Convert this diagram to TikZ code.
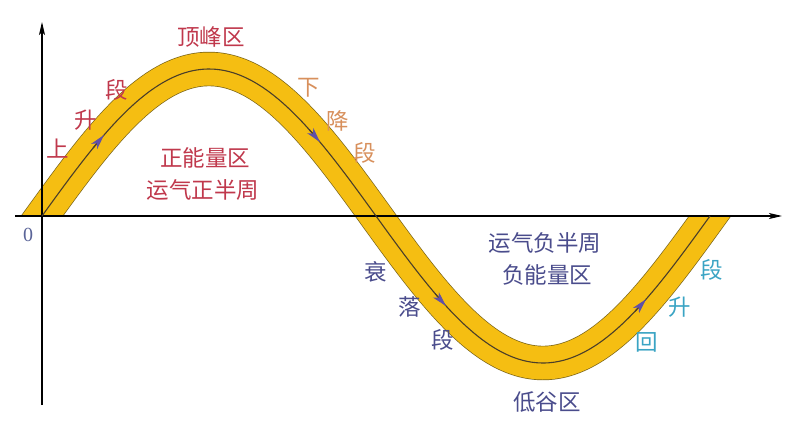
\documentclass[tikz,border=0pt]{standalone}
\usepackage{fontspec}
\newfontfamily\cjk{Noto Sans CJK SC}
\newfontfamily\numfont{Liberation Serif}
\usetikzlibrary{arrows.meta}
\definecolor{bandyellow}{HTML}{F5BE12}
\definecolor{bandedge}{HTML}{7A6418}
\definecolor{midline}{HTML}{4A3E2A}
\definecolor{arrowc}{HTML}{6050A8}
\definecolor{redlab}{HTML}{C0384C}
\definecolor{orangelab}{HTML}{D8905C}
\definecolor{bluelab}{HTML}{4A4C8C}
\definecolor{tealab}{HTML}{3AA4C4}
\definecolor{zerocol}{HTML}{5A6498}
\begin{document}
\begin{tikzpicture}[x=1pt,y=-1pt,
  lab/.style={font=\cjk\fontsize{22.5}{24}\selectfont, inner sep=0pt},
  axisline/.style={line width=1.1pt, -{Stealth[length=13pt,width=6pt,inset=3pt]}},
  band/.style={draw=bandedge, double=bandyellow, double distance=33pt, line width=0.7pt}]
\useasboundingbox (0,0) rectangle (802,442);
\fill[white] (0,0) rectangle (802,442);
% band
\begin{scope}
\clip (0,0) -- (686,0) -- (686,216) -- (802,216) -- (802,442) -- (70,442) -- (70,216) -- (0,216) -- cycle;
\draw[band] plot[smooth, domain=6:746, samples=150] (\x,{216-147*sin((\x-42)/334*180)});
\end{scope}
% axes
\coordinate (xs) at (15,216);
\coordinate (xe) at (782,216);
\coordinate (ys) at (42,405);
\coordinate (ye) at (42,22);
\draw[axisline] (xs) -- (xe);
\draw[axisline] (ys) -- (ye);
% centre line
\draw[midline, line width=1.1pt] plot[smooth, domain=42:710, samples=150] (\x,{216-147*sin((\x-42)/334*180)});
% flow arrows
\foreach \p in {104,320,446,646}{
  \draw[midline, line width=1.1pt, -{Stealth[length=15pt,width=8pt,inset=4pt,color=arrowc]}]
    plot[smooth, domain=\p-11:\p, samples=5] (\x,{216-147*sin((\x-42)/334*180)});
}
% labels
\node[lab, text=redlab] (peak) at (211,37) {顶峰区};
\node[lab, text=redlab] (s1) at (58,149) {上};
\node[lab, text=redlab] (s2) at (86,120) {升};
\node[lab, text=redlab] (s3) at (117,90) {段};
\node[lab, text=orangelab] (d1) at (309,88) {下};
\node[lab, text=orangelab] (d2) at (338,121) {降};
\node[lab, text=orangelab] (d3) at (365,153) {段};
\node[lab, text=redlab] (pz1) at (205,158) {正能量区};
\node[lab, text=redlab] (pz2) at (203,190) {运气正半周};
\node[font=\numfont\fontsize{20}{22}\selectfont, text=zerocol, inner sep=0pt] (zero) at (28,235) {0};
\node[lab, text=bluelab] (f1) at (376,272) {衰};
\node[lab, text=bluelab] (f2) at (410,307) {落};
\node[lab, text=bluelab] (f3) at (443,340) {段};
\node[lab, text=bluelab] (nz1) at (545,243) {运气负半周};
\node[lab, text=bluelab] (nz2) at (547,275) {负能量区};
\node[lab, text=bluelab] (trough) at (547,402) {低谷区};
\node[lab, text=tealab] (r1) at (647,342) {回};
\node[lab, text=tealab] (r2) at (680,307) {升};
\node[lab, text=tealab] (r3) at (712,270) {段};
\end{tikzpicture}
\end{document}
